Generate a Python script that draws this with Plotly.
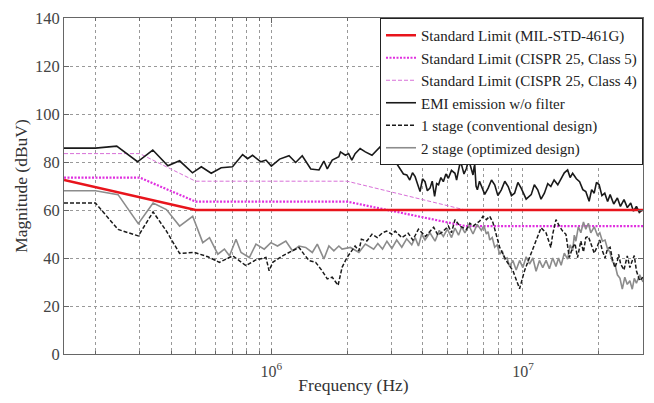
import plotly.graph_objects as go

# ---------------- data (frequency in MHz, magnitude in dBuV) ----------------
mil_f = [0.15, 0.5, 30.0]
mil_v = [72.5, 60.0, 60.0]

c5_f = [0.15, 0.30, 0.50, 2.0, 5.9, 30.0]
c5_v = [73.5, 73.5, 63.5, 63.5, 53.3, 53.3]

c4_f = [0.15, 0.30, 0.50, 2.0, 5.9, 30.0]
c4_v = [83.5, 83.5, 72.0, 72.0, 60.0, 60.0]

emi_f = [0.150, 0.200, 0.243, 0.294, 0.338, 0.388, 0.432, 0.486, 0.527, 0.577,
         0.632, 0.701, 0.769, 0.805, 0.842, 0.909, 0.952, 1.000, 1.079, 1.176,
         1.250, 1.327, 1.435, 1.547, 1.618, 1.669, 1.746, 1.855, 1.883, 1.970,
         2.028, 2.089, 2.153, 2.254, 2.364, 2.512, 2.705, 2.786, 2.966, 3.059,
         3.15, 3.245, 3.35, 3.455, 3.55, 3.64, 3.728, 3.82, 3.901, 3.99,
         4.082, 4.17, 4.271, 4.36, 4.456, 4.54, 4.620, 4.72, 4.826, 4.94,
         5.054, 5.20, 5.368, 5.45, 5.547, 5.62, 5.706, 5.83, 5.961, 6.05,
         6.147, 6.25, 6.332, 6.40, 6.434, 6.51, 6.590, 6.72, 6.842, 7.05,
         7.273, 7.50, 7.723, 7.95, 8.206, 8.47, 8.735, 9.00, 9.263, 9.55,
         9.837, 10.3, 10.786, 11.1, 11.449, 11.8, 12.168, 12.55, 12.909, 13.3,
         13.756, 14.184, 14.6, 15.049, 15.4, 15.756, 16.3, 16.795, 17.3, 17.773,
         18.323, 18.75, 19.192, 19.6, 20.083, 20.6, 21.143, 21.7, 22.209, 22.95,
         23.733, 24.4, 25.212, 26.0, 26.810, 27.5, 28.248, 29.0, 30.0]
emi_v = [85.8, 85.8, 86.6, 80.1, 85.0, 78.4, 80.5, 75.5, 78.0, 75.3,
         77.6, 78.0, 83.1, 81.4, 82.8, 80.1, 80.8, 78.3, 81.2, 82.6,
         79.8, 82.6, 77.1, 76.7, 80.4, 77.1, 80.8, 82.2, 84.2, 82.8,
         83.5, 80.8, 83.5, 85.6, 84.2, 82.8, 86.3, 83.5, 83.5, 81.4,
         79.5, 77.3, 75.0, 74.6, 72.5, 75.5, 73.9, 70.5, 67.7, 73.0,
         71.8, 68.0, 69.1, 72.0, 65.7, 71.0, 70.5, 73.5, 71.8, 75.0,
         73.2, 76.5, 75.3, 72.5, 76.0, 79.5, 78.7, 75.0, 77.3, 80.0,
         79.4, 76.0, 74.6, 78.0, 78.7, 70.0, 68.4, 72.0, 69.8, 66.5,
         69.1, 72.5, 70.5, 66.0, 68.4, 72.0, 69.8, 66.0, 67.0, 71.5,
         69.1, 64.5, 66.4, 70.5, 68.4, 64.5, 67.0, 71.0, 69.8, 72.5,
         70.5, 73.2, 75.5, 76.7, 73.5, 75.3, 73.0, 71.8, 68.5, 67.7,
         63.6, 68.5, 67.0, 71.5, 70.5, 66.0, 67.0, 63.5, 66.4, 62.5,
         65.0, 61.5, 64.3, 61.0, 62.9, 59.5, 61.5, 59.0, 60.2]

st1_f = [0.150, 0.200, 0.246, 0.296, 0.339, 0.383, 0.432, 0.495, 0.560, 0.622,
         0.703, 0.793, 0.867, 0.952, 0.980, 1.013, 1.109, 1.213, 1.288, 1.348,
         1.414, 1.500, 1.591, 1.669, 1.746, 1.842, 1.911, 1.998, 2.089, 2.153,
         2.229, 2.280, 2.399, 2.512, 2.637, 2.766, 2.875, 3.013, 3.107, 3.30,
         3.500, 3.65, 3.844, 4.10, 4.419, 4.60, 4.826, 5.054, 5.20, 5.368,
         5.620, 5.961, 6.15, 6.332, 6.737, 6.943, 7.154, 7.380, 7.604, 7.836,
         8.083, 8.583, 9.122, 9.696, 10.147, 10.620, 11.114, 11.802, 12.352, 12.545,
         12.909, 13.127, 13.529, 13.955, 14.380, 14.818, 15.0, 15.284, 15.756, 16.1,
         16.483, 16.984, 17.4, 17.773, 18.2, 18.604, 19.2, 19.775, 20.2, 20.695,
         21.2, 21.658, 22.2, 22.666, 23.2, 23.733, 24.0, 24.446, 25.2, 25.984,
         26.6, 27.191, 27.7, 28.248, 29.1, 30.0]
st1_v = [62.9, 62.9, 51.9, 49.2, 59.2, 51.2, 41.9, 42.3, 40.5, 38.2,
         40.9, 36.8, 39.2, 40.2, 34.7, 38.2, 40.9, 43.0, 44.4, 41.6,
         38.9, 38.2, 34.7, 31.3, 32.0, 28.6, 36.1, 40.2, 43.0, 45.0,
         43.0, 47.8, 47.1, 49.9, 48.5, 50.5, 51.2, 49.9, 51.2, 48.5,
         50.3, 47.5, 52.0, 49.0, 52.8, 49.5, 51.2, 53.3, 50.5, 56.0,
         53.3, 51.9, 54.5, 53.3, 55.4, 57.4, 56.0, 57.4, 54.7, 49.9,
         44.4, 38.9, 34.7, 27.2, 34.7, 40.2, 45.8, 52.6, 50.5, 48.5,
         44.4, 49.9, 56.0, 53.3, 51.2, 49.9, 45.5, 40.2, 44.4, 46.0,
         40.2, 47.1, 42.5, 48.5, 49.0, 45.8, 42.0, 45.0, 47.5, 43.0,
         40.0, 43.7, 44.5, 39.6, 36.0, 38.9, 41.5, 37.5, 35.0, 40.9,
         36.0, 38.9, 41.0, 34.7, 30.5, 32.0]

st2_f = [0.150, 0.200, 0.246, 0.296, 0.339, 0.383, 0.432, 0.487, 0.534, 0.568,
         0.613, 0.651, 0.682, 0.724, 0.758, 0.818, 0.869, 0.937, 0.996, 1.058,
         1.142, 1.213, 1.288, 1.369, 1.455, 1.523, 1.618, 1.694, 1.772, 1.855,
         1.911, 2.063, 2.229, 2.364, 2.551, 2.65, 2.766, 2.88, 3.013, 3.15,
         3.300, 3.45, 3.615, 3.73, 3.844, 3.96, 4.082, 4.27, 4.473, 4.65,
         4.826, 5.01, 5.203, 5.37, 5.547, 5.71, 5.878, 6.10, 6.332, 6.58,
         6.836, 7.00, 7.154, 7.27, 7.380, 7.55, 7.723, 7.90, 8.083, 8.27,
         8.458, 8.65, 8.852, 9.12, 9.400, 9.70, 9.992, 10.3, 10.620, 10.95,
         11.277, 11.63, 11.985, 12.36, 12.739, 13.13, 13.529, 13.85, 14.184, 14.6,
         15.049, 15.4, 15.756, 16.0, 16.229, 16.6, 16.984, 17.4, 17.773, 18.2,
         18.604, 19.2, 19.775, 20.2, 20.695, 21.2, 21.658, 22.15, 22.666, 23.2,
         23.733, 24.3, 24.826, 25.4, 25.984, 26.6, 27.191, 27.7, 28.248, 29.1,
         30.0]
st2_v = [68.0, 68.0, 66.4, 54.3, 62.9, 60.2, 53.3, 57.4, 46.4, 48.5,
         41.6, 43.7, 40.9, 47.8, 42.3, 40.2, 45.8, 43.7, 46.4, 45.0,
         47.1, 43.0, 45.0, 44.4, 42.3, 45.8, 39.6, 45.0, 43.0, 45.0,
         43.7, 44.4, 42.3, 45.8, 43.7, 46.0, 43.7, 47.0, 44.0, 47.5,
         44.5, 48.0, 45.5, 48.5, 45.0, 50.0, 47.5, 50.5, 47.0, 51.5,
         49.0, 52.0, 48.5, 52.5, 49.5, 53.0, 50.5, 53.5, 50.0, 54.0,
         51.5, 53.5, 50.0, 51.0, 47.5, 48.5, 44.5, 45.5, 41.5, 43.0,
         39.5, 40.0, 36.5, 39.0, 35.0, 39.0, 36.0, 40.5, 37.5, 40.0,
         34.5, 39.0, 36.0, 39.0, 35.5, 40.0, 36.5, 40.0, 37.0, 42.0,
         39.5, 45.5, 43.0, 49.5, 47.0, 53.0, 50.5, 55.0, 52.0, 54.5,
         50.5, 53.0, 49.5, 50.5, 47.0, 47.5, 44.0, 42.5, 38.5, 37.5,
         33.0, 31.5, 27.0, 32.0, 29.0, 30.5, 27.0, 31.5, 29.5, 33.0,
         30.0]

x_tickvals = [1e6, 1e7]
x_ticktext = ["10<sup>6</sup>", "10<sup>7</sup>"]
x_minor = [2e5, 3e5, 4e5, 5e5, 6e5, 7e5, 8e5, 9e5,
           2e6, 3e6, 4e6, 5e6, 6e6, 7e6, 8e6, 9e6, 2e7]
y_tickvals = [0, 20, 40, 60, 80, 100, 120, 140]

def hz(lst):
    return [v * 1e6 for v in lst]

FONT = "Liberation Serif, Times New Roman, serif"

fig = go.Figure()
fig.add_trace(go.Scatter(x=hz(c5_f), y=c5_v, mode="lines", name="Standard Limit (CISPR 25, Class 5)",
                         line=dict(color="#e030e0", width=2.2, dash="2px,1.5px"), legendrank=2))
fig.add_trace(go.Scatter(x=hz(c4_f), y=c4_v, mode="lines", name="Standard Limit (CISPR 25, Class 4)",
                         line=dict(color="#d870d8", width=1, dash="4px,2px"), legendrank=3))
fig.add_trace(go.Scatter(x=hz(emi_f), y=emi_v, mode="lines", name="EMI emission w/o filter",
                         line=dict(color="#1a1a1a", width=1.6), legendrank=4))
fig.add_trace(go.Scatter(x=hz(st2_f), y=st2_v, mode="lines", name="2 stage (optimized design)",
                         line=dict(color="#8c8c8c", width=1.6), legendrank=6))
fig.add_trace(go.Scatter(x=hz(st1_f), y=st1_v, mode="lines", name="1 stage (conventional design)",
                         line=dict(color="#1a1a1a", width=1.5, dash="4px,2px"), legendrank=5))
fig.add_trace(go.Scatter(x=hz(mil_f), y=mil_v, mode="lines", name="Standard Limit (MIL-STD-461G)",
                         line=dict(color="#e8141c", width=2.5), legendrank=1))

fig.update_layout(
    width=638, height=387,
    margin=dict(l=56, r=3, t=10, b=41, autoexpand=False),
    paper_bgcolor="white", plot_bgcolor="white",
    font=dict(family=FONT, size=15, color="#333333"),
    legend=dict(x=1, xanchor="right", y=1, yanchor="top",
                bgcolor="white", bordercolor="#222222", borderwidth=1,
                font=dict(family=FONT, size=15, color="#222222"),
                itemwidth=30, tracegroupgap=0),
    xaxis=dict(type="log", range=[5.17609, 7.47712], automargin=False,
               tickvals=x_tickvals, ticktext=x_ticktext,
               showgrid=True, gridcolor="#999999", griddash="dot", gridwidth=1,
               ticks="inside", ticklen=5, tickcolor="#666666",
               showline=True, linecolor="#666666", linewidth=1, mirror="ticks",
               ticklabeloverflow="allow", ticklabelstandoff=3,
               minor=dict(tickvals=x_minor, showgrid=True, gridcolor="#999999",
                          griddash="dot", gridwidth=1, ticks="inside", ticklen=3,
                          tickcolor="#666666"),
               title=dict(text="Frequency (Hz)", font=dict(size=17.5, color="#333333"), standoff=2),
               tickfont=dict(size=16, color="#444444")),
    yaxis=dict(range=[0, 140], tickvals=y_tickvals, automargin=False,
               showgrid=True, gridcolor="#999999", griddash="dot", gridwidth=1,
               ticks="inside", ticklen=5, tickcolor="#666666",
               showline=True, linecolor="#666666", linewidth=1, mirror="ticks",
               zeroline=False, ticklabeloverflow="allow",
               title=dict(text="Magnitude (dBuV)", font=dict(size=17.5, color="#333333"), standoff=2),
               tickfont=dict(size=16.5, color="#444444")),
)

fig.write_html("out.html")
